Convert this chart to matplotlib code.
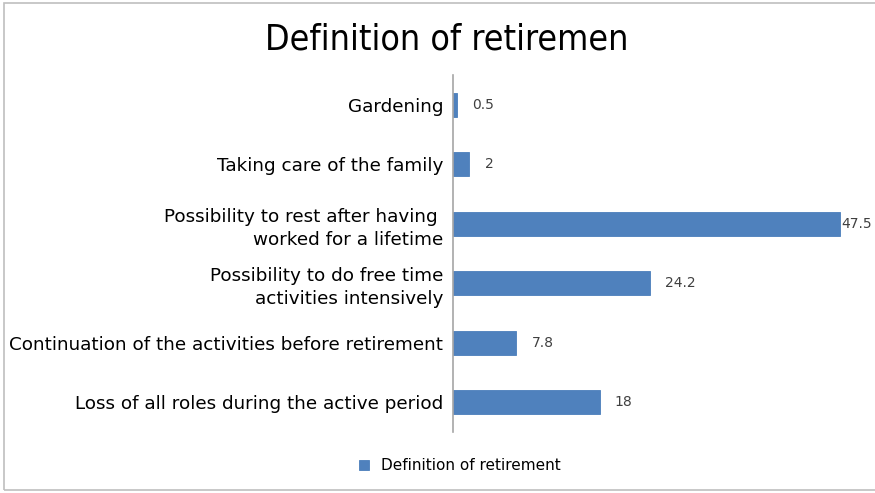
import matplotlib.pyplot as plt
from matplotlib.patches import Rectangle

categories = ["Loss of all roles during the active period",
              "Continuation of the activities before retirement",
              "Possibility to do free time\nactivities intensively",
              "Possibility to rest after having \nworked for a lifetime",
              "Taking care of the family",
              "Gardening"]
values = [18, 7.8, 24.2, 47.5, 2, 0.5]
series_name = "Definition of retirement"
title = "Definition of retiremen"

fig = plt.figure(figsize=(8.75, 4.93), dpi=100)
ax = fig.add_axes([453/875, 1-432/493, (860-453)/875, (432-75)/493])

pos = list(range(len(categories)))
bars = ax.barh(pos, values, height=0.4, color="#4f81bd", edgecolor="#4a7ebb",
               linewidth=0.6, label=series_name)

ax.set_xlim(0, 50)
ax.set_ylim(-0.5, len(categories) - 0.5)
ax.set_yticks(pos)
ax.set_yticklabels(categories, fontsize=13.2, color="#000000", linespacing=1.35)
ax.tick_params(axis="y", length=0, pad=7)
ax.set_xticks([])
for s in ["top", "right", "bottom"]:
    ax.spines[s].set_visible(False)
ax.spines["left"].set_color("#a6a6a6")
ax.spines["left"].set_linewidth(1.2)

vmax = max(values)
for b, v in zip(bars, values):
    off = 1 if v == vmax else 11
    ax.annotate(f"{v:g}", (b.get_width(), b.get_y() + b.get_height()/2),
                xytext=(off, 0), textcoords="offset points", va="center",
                ha="left", fontsize=10, color="#404040", annotation_clip=False)

fig.text(447/875, 1-40/493, title, ha="center", va="center", fontsize=25.7,
         fontstretch="condensed")

leg = fig.legend(loc="center", bbox_to_anchor=(460/875, 1-466/493), frameon=False,
                 fontsize=11, handlelength=0.6, handleheight=0.6, handletextpad=0.8)

fig.patches.append(Rectangle((4/875, 3/493), 1.0, 487/493, transform=fig.transFigure,
                             fill=False, edgecolor="#bfbfbf", linewidth=1.2))

fig.savefig("out.png", dpi=100)
